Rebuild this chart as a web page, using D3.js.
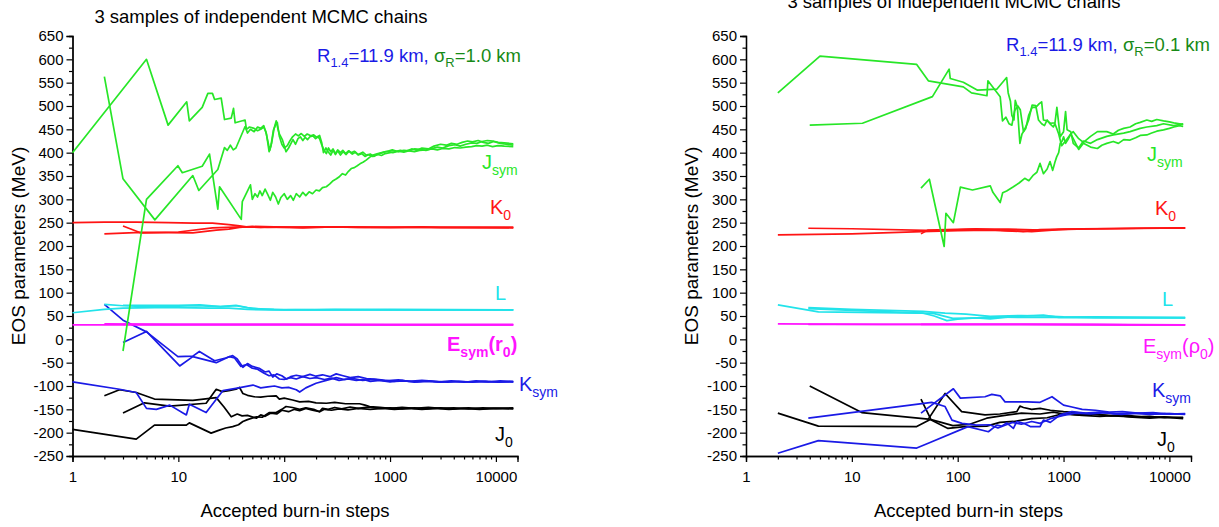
<!DOCTYPE html>
<html>
<head>
<meta charset="utf-8">
<script src="https://cdn.jsdelivr.net/npm/d3@7"></script>
<style>
  html, body { margin: 0; padding: 0; background: #fff; }
  svg { display: block; }
</style>
</head>
<body>
<svg id="chart" width="1219" height="527"></svg>
<script>
// ---- axis ticks ----
const stepTicks = [1, 10, 100, 1000, 10000];
const stepTickLabels = ["1", "10", "100", "1000", "10000"];
const stepMinorTicks = [2, 3, 4, 5, 6, 7, 8, 9,
  20, 30, 40, 50, 60, 70, 80, 90,
  200, 300, 400, 500, 600, 700, 800, 900,
  2000, 3000, 4000, 5000, 6000, 7000, 8000, 9000];
const mevTicks = [650, 600, 550, 500, 450, 400, 350, 300, 250, 200, 150, 100, 50, 0,
  -50, -100, -150, -200, -250];
const mevTickLabels = ["650", "600", "550", "500", "450", "400", "350", "300", "250", "200",
  "150", "100", "50", "0", "-50", "-100", "-150", "-200", "-250"];
const mevMinorTicks = [625, 575, 525, 475, 425, 375, 325, 275, 225, 175, 125, 75, 25,
  -25, -75, -125, -175, -225];

// ---- chains, sigma_R = 1.0 km : [accepted step, MeV] ----
const jsymWide = [
  [[1,400],[5,600],[8,459],[12,509],[12.7,468],[16.8,497],[19,527],[21,527],[22,514],[25.4,517],[27.3,471],[31.6,474],[33.2,495],[34.4,464],[42.7,470],[44,450],[47,455],[52,452],[56,447],[60,450],[64,455],[67,445],[70,425],[73,405],[76,420],[80,450],[84,468],[87,452],[90,440],[96,428],[104,402],[110,410],[116,420],[121,428],[128,418],[135,430],[142,434],[150,426],[158,433],[166,428],[175,434],[187,436],[198,430],[208,434],[216,430],[225,418],[238,405],[250,398],[262,410],[275,402],[289,408],[305,398],[320,406],[340,400],[358,405],[380,398],[405,404],[430,400],[460,403],[500,396],[553,401],[600,394],[650,397],[700,392],[760,396],[830,394],[900,398],[1000,400],[1100,402],[1250,405],[1400,403],[1600,408],[1800,405],[2000,410],[2300,408],[2600,414],[3000,418],[3400,416],[3800,420],[4300,418],[4800,422],[5400,425],[6000,423],[6800,426],[7600,422],[8500,420],[9500,424],[11000,420],[12500,418],[14600,416]],
  [[2,563],[3,344],[6,256],[13.7,351],[15.6,319],[23.6,364],[27.3,411],[29,405],[31,416],[33,406],[35,410],[42.7,456],[45,442],[48,450],[52,445],[56,455],[60,452],[64,458],[68,440],[72,402],[75,415],[79,448],[83,460],[86,465],[90,435],[95,418],[100,410],[107,415],[113,425],[120,434],[128,440],[136,436],[145,441],[155,435],[165,440],[178,436],[190,438],[202,433],[216,437],[226,422],[235,400],[248,410],[260,402],[275,395],[290,405],[305,396],[320,404],[340,395],[360,402],[385,396],[410,403],[440,397],[470,401],[500,395],[540,398],[580,392],[620,396],[680,392],[740,395],[800,398],[870,401],[950,403],[1050,406],[1200,402],[1350,405],[1520,404],[1700,408],[1900,407],[2185,405],[2500,409],[2800,412],[3140,410],[3600,415],[4100,417],[4600,414],[5200,418],[5900,421],[6600,420],[7400,424],[8300,426],[9300,425],[10500,422],[12000,421],[14600,419]],
  [[3,-25],[5,300],[9.9,372],[10.9,357],[16.8,371],[19.7,397],[23.6,279],[24.5,327],[39.3,257],[40.2,295],[48,331],[50,300],[53,312],[56,305],[59,318],[62,308],[66,322],[70,310],[74,298],[78,315],[83,305],[88,290],[93,304],[100,312],[107,300],[115,308],[122,298],[130,312],[140,305],[150,315],[160,308],[172,316],[185,312],[200,320],[215,318],[230,325],[250,327],[270,333],[290,340],[312,344],[334,349],[355,355],[380,352],[405,360],[430,366],[460,368],[490,372],[520,376],[560,380],[595,384],[640,390],[690,395],[740,397],[800,399],[870,401],[950,403],[1063,400],[1200,403],[1350,401],[1520,404],[1700,402],[1900,405],[2185,406],[2500,408],[2800,406],[3140,409],[3600,408],[4100,411],[4600,410],[5200,412],[5900,413],[6600,415],[7400,414],[8300,416],[9300,413],[10500,415],[12000,414],[14600,413]]
];
const k0Wide = [
  [[1,250],[2,251],[4,251],[8,250],[14,249],[21,249],[30,246],[38,243],[44,241],[60,240],[70,241],[100,240],[150,239],[200,240],[300,241],[500,240],[700,240],[1000,240],[2000,241],[3000,240],[6000,240],[14600,240]],
  [[2,226],[4.45,229],[13.7,228],[22.8,234],[30,236],[37.8,240],[50,242],[80,241],[150,240],[400,241],[1000,240],[3000,240],[14600,240]],
  [[3,243],[4.45,228],[10,230],[21,239],[40,241],[70,240],[200,241],[600,240],[2000,240],[14600,239]]
];
const lWide = [
  [[1,57],[2,64],[3,67],[6,68],[10,68],[20,67],[30,67],[45,64],[70,63],[150,63],[500,63],[2000,63],[14600,63]],
  [[2,75],[3,72],[5,70],[10,71],[15,72],[25,70],[35,73],[45,68],[60,65],[100,63],[300,64],[1000,63],[14600,63]],
  [[3,73],[5,73],[10,73],[16,74],[25,70],[35,72],[50,66],[80,64],[200,63],[1000,64],[14600,63]]
];
const esymWide = [
  [[1,31],[10,31],[100,31],[1000,31],[14600,31]],
  [[2,33],[10,32],[100,32],[1000,31],[14600,31]],
  [[3,32],[30,32],[300,32],[3000,32],[14600,32]]
];
const ksymWide = [
  [[2,75],[3,41],[5,16],[9.9,-37],[13.7,-36],[15.8,-26],[22,-46],[28,-40],[32.6,-35],[36,-42],[40.7,-60],[45,-52],[50,-58],[58,-62],[66,-70],[72,-68],[78,-81],[85,-74],[95,-78],[105,-85],[115,-80],[130,-77],[150,-80],[175,-75],[200,-79],[230,-76],[270,-80],[310,-74],[360,-78],[420,-82],[500,-80],[600,-84],[750,-86],[900,-88],[1100,-90],[1400,-89],[1800,-91],[2300,-90],[3000,-92],[4000,-90],[5500,-91],[7500,-90],[10000,-91],[14600,-90]],
  [[3,-7],[5,17],[10.3,-57],[13.7,-37],[22.8,-50],[30.5,-37],[34,-40],[39,-58],[44,-54],[50,-62],[56,-64],[64,-72],[72,-78],[80,-76],[90,-85],[100,-86],[115,-82],[130,-85],[150,-80],[175,-84],[200,-82],[240,-86],[280,-83],[330,-88],[400,-85],[480,-88],[560,-86],[650,-90],[800,-88],[1000,-91],[1300,-88],[1700,-92],[2200,-89],[2900,-91],[3800,-89],[5000,-92],[6500,-89],[8500,-91],[11000,-89],[14600,-91]],
  [[1,-91],[2.78,-107],[4,-114],[5,-148],[6.2,-150],[8.3,-141],[11.9,-162],[12.7,-139],[18.3,-157],[26.3,-110],[35,-105],[50.7,-98],[60,-104],[70,-102],[81,-100],[95,-104],[110,-103],[130,-108],[140,-113],[160,-104],[200,-94],[250,-88],[310,-82],[370,-86],[450,-84],[550,-88],[700,-86],[900,-89],[1200,-87],[1500,-90],[2000,-88],[2700,-90],[3500,-92],[4500,-90],[6000,-92],[8000,-90],[10500,-92],[14600,-91]]
];
const j0Wide = [
  [[2,-121],[2.78,-108],[4,-114],[5.95,-128],[13.7,-131],[22.8,-125],[27,-145],[31.6,-166],[36,-160],[40,-164],[45,-163],[54.5,-169],[60,-162],[66,-165],[75,-158],[85,-160],[95,-152],[110,-155],[125,-150],[140,-153],[160,-148],[185,-152],[216,-155],[230,-148],[260,-150],[300,-146],[350,-149],[420,-145],[500,-148],[620,-145],[800,-148],[1000,-147],[1300,-149],[1700,-147],[2200,-149],[3000,-147],[4000,-149],[5500,-147],[7500,-149],[10000,-148],[14600,-149]],
  [[3,-158],[4.78,-136],[8.25,-143],[18.3,-137],[22.8,-107],[26,-112],[30,-110],[35,-107],[37.8,-103],[40.7,-116],[45,-120],[52,-123],[60,-124],[70,-122],[84,-121],[90,-128],[100,-126],[120,-130],[140,-134],[170,-133],[200,-136],[250,-137],[300,-135],[380,-138],[516,-138],[580,-141],[640,-144],[800,-146],[1000,-148],[1300,-146],[1700,-148],[2300,-146],[3000,-148],[4000,-147],[5500,-149],[7500,-147],[10000,-148],[14600,-147]],
  [[1,-193],[4,-214],[5.95,-184],[11.9,-184],[12.7,-179],[20.4,-201],[24,-195],[28,-190],[32.6,-187],[37,-183],[40.7,-176],[45,-172],[54.5,-166],[62,-167],[72,-157],[84,-157],[95,-150],[104,-144],[120,-146],[140,-150],[160,-147],[190,-150],[216,-155],[240,-150],[280,-152],[330,-149],[400,-151],[500,-148],[650,-150],[850,-148],[1100,-150],[1500,-148],[2000,-150],[2700,-148],[3600,-150],[5000,-148],[7000,-150],[9500,-148],[14600,-148]]
];

// ---- chains, sigma_R = 0.1 km ----
const jsymNarrow = [
  [[2,528],[5,607],[41,589],[52.8,554],[113,541],[135,528],[189,522],[193,554],[252,520],[265,468],[285,476],[305,462],[325,459],[345,490],[370,500],[390,492],[418,445],[440,452],[468,480],[505,497],[546,497],[590,505],[621,509],[646,470],[700,468],[750,463],[830,464],[865,497],[930,434],[1000,445],[1045,488],[1080,449],[1170,445],[1235,420],[1390,410],[1540,425],[1800,420],[2090,428],[2560,435],[2950,438],[3700,442],[4250,445],[5300,452],[6120,455],[7600,458],[8800,462],[11000,458],[13500,462]],
  [[4,459],[12.6,463],[57.7,520],[83,579],[85,559],[113,551],[154,534],[234,536],[290,561],[300,528],[315,510],[325,480],[340,470],[350,512],[366,498],[387,420],[405,440],[418,445],[450,460],[468,470],[505,502],[546,501],[580,470],[621,462],[660,458],[700,470],[750,461],[800,455],[830,462],[900,440],[960,415],[1045,425],[1170,440],[1235,430],[1390,407],[1540,420],[1800,412],[2090,409],[2300,416],[2560,420],[2950,424],[3300,420],[3700,428],[4250,427],[4800,432],[5300,437],[6120,438],[6800,442],[7600,446],[8800,449],[10000,452],[11000,455],[12500,458],[13500,456]],
  [[45,324],[54,343],[74.5,199],[77.4,270],[91,250],[106,326],[138,320],[203,329],[215,315],[252,293],[266,314],[290,318],[336,327],[380,335],[430,345],[470,340],[519,352],[560,358],[600,377],[646,355],[700,365],[745,381],[790,362],[830,380],[861,391],[900,400],[930,420],[970,425],[1000,434],[1045,420],[1100,428],[1170,440],[1235,445],[1390,430],[1540,422],[1800,435],[2090,445],[2560,445],[2950,440],[3300,448],[3700,452],[4250,455],[4800,462],[5300,465],[6120,470],[6800,467],[7600,471],[8800,468],[10000,466],[11000,464],[12500,462],[13500,460]]
];
const k0Narrow = [
  [[2,224],[10,226],[45.6,231],[100,233],[200,234],[415,231],[600,235],[1000,236],[3000,237],[14100,239]],
  [[3.88,238],[10,237],[65,233],[150,236],[300,236],[620,234],[1500,237],[5000,238],[14100,239]],
  [[45,226],[52,234],[80,235],[150,237],[300,233],[500,231],[900,235],[2000,237],[6000,238],[14100,238]]
];
const lNarrow = [
  [[2,74],[4.83,59],[47.4,56],[60,50],[79,40],[100,43],[203,48],[400,47],[800,47],[2000,46],[14100,46]],
  [[3.88,68],[10,64],[47,60],[76,56],[120,54],[203,49],[400,51],[700,50],[1000,48],[3000,47],[14100,47]],
  [[3.88,66],[10,62],[60,55],[90,45],[150,46],[203,44],[350,49],[645,52],[900,47],[2000,48],[14100,46]]
];
const esymNarrow = [
  [[2,33],[20,32],[200,32],[2000,32],[14100,31]],
  [[3.88,32],[40,32],[400,32],[4000,31],[14100,31]],
  [[45,32],[450,32],[4500,31],[14100,31]]
];
const ksymNarrow = [
  [[2,-244],[4.83,-217],[41,-233],[54.8,-221],[125,-187],[195,-198],[234,-184],[260,-186],[290,-179],[336,-191],[362,-176],[420,-180],[485,-187],[600,-187],[645,-173],[750,-178],[930,-162],[1200,-155],[1600,-158],[2200,-156],[3000,-160],[4500,-158],[6500,-161],[9000,-159],[14100,-160]],
  [[3.88,-169],[56.8,-135],[76,-144],[88.3,-173],[110,-180],[150,-184],[200,-183],[240,-190],[280,-184],[330,-178],[400,-182],[500,-176],[600,-180],[750,-170],[1000,-163],[1300,-158],[1800,-160],[2500,-157],[3500,-161],[5000,-158],[7000,-160],[10000,-159],[14100,-161]],
  [[45,-158],[91,-106],[106,-126],[181,-123],[210,-118],[252,-121],[280,-134],[336,-134],[450,-134],[600,-135],[700,-128],[778,-123],[1000,-141],[1200,-145],[1500,-150],[2000,-152],[2700,-156],[3600,-155],[5000,-158],[7000,-157],[10000,-160],[14100,-159]]
];
const j0Narrow = [
  [[4,-100],[12.4,-157],[52.8,-171],[76,-116],[109,-155],[181,-162],[250,-160],[362,-155],[387,-143],[418,-146],[500,-150],[600,-148],[750,-152],[1000,-155],[1500,-158],[2200,-162],[3000,-164],[4500,-166],[6500,-165],[9000,-168],[13500,-167]],
  [[2,-158],[4.83,-186],[41,-187],[55,-172],[81,-191],[117,-187],[188,-186],[250,-178],[336,-176],[500,-170],[700,-168],[1000,-159],[1400,-162],[2000,-160],[2800,-164],[4000,-163],[6000,-167],[9000,-166],[13500,-168]],
  [[45,-128],[56,-172],[70,-178],[90,-185],[130,-182],[188,-169],[240,-165],[300,-162],[400,-158],[600,-160],[800,-156],[1000,-160],[1500,-163],[2200,-165],[3200,-163],[4500,-167],[6500,-169],[9000,-167],[13500,-170]]
];

// ---- styling ----
const FONT = "'Liberation Sans', Arial, Helvetica, sans-serif";
const COLORS = {
  jsym: "#27e627", k0: "#ff1414", l: "#22e3ea", esym: "#ff14ff", ksym: "#1a1ae6", j0: "#000000",
  noteR: "#1a1ae6", noteSigma: "#178a17"
};
const PLOT_W = 445, PLOT_H = 420, TOP = 36;

const svg = d3.select("#chart");

const x = d3.scaleLog().domain([1, 16000]).range([0, PLOT_W]);
const y = d3.scaleLinear().domain([-250, 650]).range([PLOT_H, 0]);
const line = d3.line().x(d => x(d[0])).y(d => y(d[1]));

// text built from plain and subscript runs
function richText(parent, px, py, runs, size, color, weight) {
  const t = parent.append("text")
    .attr("x", px).attr("y", py)
    .attr("font-family", FONT)
    .attr("font-size", size)
    .attr("font-weight", weight || "normal")
    .attr("fill", color);
  const subSize = size * 0.7;
  const shift = size * 0.28;
  let down = false;
  runs.forEach(r => {
    const s = t.append("tspan").text(r.t);
    if (r.sub) {
      s.attr("font-size", subSize);
      if (!down) { s.attr("dy", shift); down = true; }
    } else if (down) {
      s.attr("dy", -shift); down = false;
    }
    if (r.fill) s.attr("fill", r.fill);
  });
  return t;
}

function drawPanel(cfg) {
  const g = svg.append("g").attr("transform", `translate(${cfg.ox},${TOP})`);

  // axes
  const xAxis = d3.axisBottom(x).tickValues(stepTicks)
    .tickFormat((d, i) => stepTickLabels[i]).tickSize(6).tickPadding(9);
  const xMinor = d3.axisBottom(x).tickValues(stepMinorTicks).tickFormat("").tickSize(3.5);
  const yAxis = d3.axisLeft(y).tickValues(mevTicks)
    .tickFormat((d, i) => mevTickLabels[i]).tickSize(6).tickPadding(3);
  const yMinor = d3.axisLeft(y).tickValues(mevMinorTicks).tickFormat("").tickSize(3.5);

  [xMinor, xAxis].forEach(a => g.append("g").attr("transform", `translate(0,${PLOT_H})`).call(a));
  [yMinor, yAxis].forEach(a => g.append("g").call(a));
  g.selectAll(".domain").attr("stroke", "#000").attr("stroke-width", 1.3);
  g.selectAll(".tick line").attr("stroke", "#000").attr("stroke-width", 1.2);
  g.selectAll(".tick text").attr("font-family", FONT).attr("font-size", 15).attr("fill", "#000");

  // chains
  cfg.series.forEach(s => {
    g.append("g").selectAll("path").data(s.chains).join("path")
      .attr("d", line)
      .attr("fill", "none")
      .attr("stroke", s.color)
      .attr("stroke-width", 1.7)
      .attr("stroke-linejoin", "round");
  });

  // panel title and axis titles
  svg.append("text").attr("x", cfg.titleX).attr("y", cfg.titleY)
    .attr("text-anchor", "middle").attr("font-family", FONT).attr("font-size", 18.5)
    .text("3 samples of independent MCMC chains");
  svg.append("text")
    .attr("transform", `translate(${cfg.ox - 48},${TOP + PLOT_H / 2}) rotate(-90)`)
    .attr("text-anchor", "middle").attr("font-family", FONT).attr("font-size", 19)
    .text("EOS parameters (MeV)");
  svg.append("text").attr("x", cfg.ox + PLOT_W / 2).attr("y", 517)
    .attr("text-anchor", "middle").attr("font-family", FONT).attr("font-size", 18.5)
    .text("Accepted burn-in steps");

  // radius / uncertainty note
  richText(svg, cfg.note.x, cfg.note.y, [
    { t: "R" }, { t: "1.4", sub: true }, { t: "=11.9 km, " },
    { t: "σ", fill: COLORS.noteSigma }, { t: "R", sub: true, fill: COLORS.noteSigma },
    { t: "=" + cfg.note.sigma + " km", fill: COLORS.noteSigma }
  ], 18.5, COLORS.noteR);

  // parameter labels
  cfg.labels.forEach(l => richText(svg, l.x, l.y, l.runs, 20, l.color, l.weight));
}

const seriesOf = (j0, ksym, esym, l, k0, jsym) => [
  { chains: j0, color: COLORS.j0 },
  { chains: ksym, color: COLORS.ksym },
  { chains: esym, color: COLORS.esym },
  { chains: l, color: COLORS.l },
  { chains: k0, color: COLORS.k0 },
  { chains: jsym, color: COLORS.jsym }
];

drawPanel({
  ox: 72.5, titleX: 261, titleY: 23,
  note: { x: 317, y: 62, sigma: "1.0" },
  series: seriesOf(j0Wide, ksymWide, esymWide, lWide, k0Wide, jsymWide),
  labels: [
    { x: 482, y: 169, color: COLORS.jsym, runs: [{ t: "J" }, { t: "sym", sub: true }] },
    { x: 490, y: 214, color: COLORS.k0, runs: [{ t: "K" }, { t: "0", sub: true }] },
    { x: 495, y: 300, color: COLORS.l, runs: [{ t: "L" }] },
    { x: 447, y: 351, color: COLORS.esym, weight: "bold",
      runs: [{ t: "E" }, { t: "sym", sub: true }, { t: "(r" }, { t: "0", sub: true }, { t: ")" }] },
    { x: 519, y: 391, color: COLORS.ksym, runs: [{ t: "K" }, { t: "sym", sub: true }] },
    { x: 495, y: 441, color: COLORS.j0, runs: [{ t: "J" }, { t: "0", sub: true }] }
  ]
});

drawPanel({
  ox: 746, titleX: 954, titleY: 8,
  note: { x: 1006, y: 51, sigma: "0.1" },
  series: seriesOf(j0Narrow, ksymNarrow, esymNarrow, lNarrow, k0Narrow, jsymNarrow),
  labels: [
    { x: 1147, y: 161, color: COLORS.jsym, runs: [{ t: "J" }, { t: "sym", sub: true }] },
    { x: 1155, y: 215, color: COLORS.k0, runs: [{ t: "K" }, { t: "0", sub: true }] },
    { x: 1162, y: 306, color: COLORS.l, runs: [{ t: "L" }] },
    { x: 1143, y: 353, color: COLORS.esym,
      runs: [{ t: "E" }, { t: "sym", sub: true }, { t: "(ρ" }, { t: "0", sub: true }, { t: ")" }] },
    { x: 1152, y: 397, color: COLORS.ksym, runs: [{ t: "K" }, { t: "sym", sub: true }] },
    { x: 1157, y: 446, color: COLORS.j0, runs: [{ t: "J" }, { t: "0", sub: true }] }
  ]
});
</script>
</body>
</html>
